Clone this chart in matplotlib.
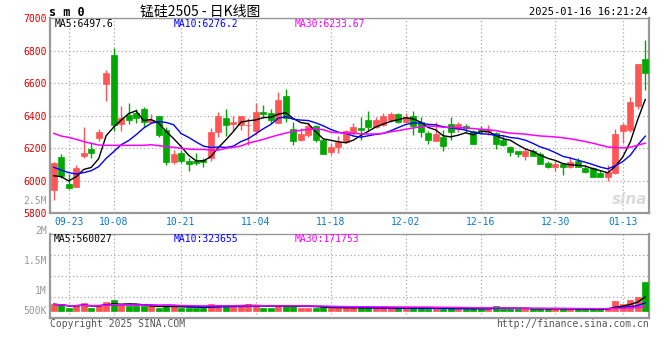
import numpy as np
import pandas as pd
import matplotlib
matplotlib.use('Agg')
import matplotlib.pyplot as plt

# daily candles 2024-09-19 .. 2025-01-16 (80 sessions)
open_ = [5943, 6148, 5980, 5964, 6152, 6197, 6265, 6597, 6773, 6349,
         6404, 6419, 6441, 6363, 6398, 6312, 6113, 6168, 6121, 6121,
         6128, 6142, 6302, 6384, 6347, 6341, 6341, 6308, 6423, 6419,
         6357, 6521, 6318, 6251, 6282, 6337, 6251, 6179, 6206, 6241,
         6292, 6324, 6374, 6333, 6343, 6374, 6410, 6363, 6398, 6362,
         6294, 6246, 6271, 6349, 6316, 6337, 6304, 6318, 6302, 6292,
         6253, 6205, 6183, 6153, 6183, 6165, 6111, 6087, 6101, 6087,
         6122, 6081, 6081, 6046, 6021, 6046, 6308, 6312, 6460, 6749]
high = [6115, 6164, 6039, 6097, 6332, 6236, 6320, 6681, 6818, 6460,
        6480, 6441, 6453, 6410, 6400, 6332, 6189, 6189, 6138, 6168,
        6138, 6323, 6425, 6439, 6398, 6398, 6384, 6476, 6466, 6439,
        6548, 6562, 6364, 6326, 6364, 6343, 6255, 6230, 6275, 6312,
        6357, 6394, 6429, 6390, 6415, 6425, 6415, 6419, 6431, 6394,
        6304, 6362, 6312, 6392, 6359, 6349, 6312, 6337, 6345, 6302,
        6281, 6217, 6183, 6200, 6193, 6179, 6124, 6128, 6111, 6148,
        6142, 6097, 6087, 6066, 6097, 6316, 6357, 6517, 6718, 6866]
low = [5882, 6015, 5949, 5960, 6138, 6142, 6244, 6490, 6306, 6306,
       6347, 6353, 6332, 6357, 6267, 6097, 6103, 6107, 6062, 6095,
       6087, 6124, 6271, 6275, 6312, 6312, 6220, 6282, 6384, 6353,
       6353, 6363, 6220, 6245, 6271, 6241, 6165, 6158, 6173, 6234,
       6282, 6251, 6308, 6322, 6337, 6363, 6353, 6353, 6280, 6271,
       6228, 6246, 6184, 6249, 6302, 6302, 6226, 6288, 6281, 6195,
       6214, 6153, 6148, 6128, 6152, 6101, 6077, 6062, 6036, 6077,
       6087, 6050, 6021, 6021, 6001, 6042, 6234, 6298, 6439, 6558]
close = [6111, 6031, 5955, 6080, 6171, 6173, 6300, 6662, 6343, 6388,
         6373, 6386, 6363, 6374, 6281, 6117, 6164, 6121, 6105, 6107,
         6113, 6302, 6398, 6341, 6364, 6398, 6345, 6423, 6413, 6374,
         6497, 6384, 6247, 6288, 6337, 6251, 6165, 6206, 6241, 6306,
         6329, 6312, 6333, 6374, 6398, 6410, 6363, 6394, 6338, 6298,
         6248, 6288, 6214, 6302, 6349, 6322, 6228, 6308, 6312, 6226,
         6220, 6179, 6167, 6184, 6154, 6101, 6083, 6103, 6087, 6118,
         6087, 6056, 6025, 6025, 6052, 6288, 6343, 6487, 6718, 6665]
volume = [265e3, 225e3, 130e3, 225e3, 305e3, 130e3, 225e3, 345e3, 425e3, 225e3,
          200e3, 185e3, 200e3, 185e3, 130e3, 210e3, 185e3, 130e3, 130e3, 130e3,
          120e3, 265e3, 225e3, 210e3, 185e3, 210e3, 265e3, 250e3, 130e3, 130e3,
          210e3, 230e3, 250e3, 130e3, 130e3, 130e3, 170e3, 120e3, 110e3, 110e3,
          110e3, 185e3, 110e3, 110e3, 110e3, 110e3, 110e3, 110e3, 115e3, 110e3,
          95e3, 100e3, 90e3, 100e3, 95e3, 90e3, 100e3, 90e3, 95e3, 180e3,
          90e3, 85e3, 90e3, 95e3, 85e3, 90e3, 80e3, 95e3, 90e3, 95e3,
          70e3, 80e3, 75e3, 85e3, 126e3, 398e3, 266e3, 426e3, 557e3, 1153e3]

# moving-average values before enough sessions exist on the chart
ma5_head = [6031, 6025, 5999, 6025]
ma10_head = [6083, 6066, 6050, 6042, 6050, 6062, 6087, 6138, 6179]
ma30_head = [6292, 6275, 6267, 6255, 6241, 6230, 6220, 6218, 6218, 6218,
             6218, 6218, 6218, 6222, 6216, 6210, 6206, 6200, 6195, 6193,
             6193, 6189, 6189, 6200, 6206, 6214, 6232, 6243, 6255]

tick_idx = [2, 8, 17, 27, 37, 47, 57, 67, 76]
tick_lbl = ['09-23', '10-08', '10-21', '11-04', '11-18', '12-02', '12-16', '12-30', '01-13']

o = np.array(open_, float)
h = np.array(high, float)
l = np.array(low, float)
c = np.array(close, float)
v = np.array(volume, float)
x = np.arange(len(c))

cs = pd.Series(c)
ma5 = cs.rolling(5).mean().to_numpy()
ma10 = cs.rolling(10).mean().to_numpy()
ma30 = cs.rolling(30).mean().to_numpy()
ma5[:len(ma5_head)] = ma5_head
ma10[:len(ma10_head)] = ma10_head
ma30[:len(ma30_head)] = ma30_head

vs = pd.Series(v)
vma5 = vs.rolling(5, min_periods=1).mean()
vma10 = vs.rolling(10, min_periods=1).mean()
vma30 = vs.rolling(30, min_periods=1).mean()

RED = '#ff5555'
GREEN = '#00a800'
GRID = '#aaaaaa'
EDGE = '#999999'
MONO = 'DejaVu Sans Mono'
cols = np.where(c >= o, RED, GREEN)

W, H = 660, 360
fig = plt.figure(figsize=(6.6, 3.6), dpi=100)


def ftext(px, py, s, **kw):
    kw.setdefault('family', MONO)
    kw.setdefault('va', 'center')
    fig.text(px / W, 1 - py / H, s, **kw)


ax = fig.add_axes([50 / W, 1 - 213.3 / H, 599 / W, 195.1 / H])
axv = fig.add_axes([50 / W, 1 - 318 / H, 599 / W, 84 / H], sharex=ax)

# candles
ax.vlines(x, l, h, colors=cols, linewidth=1, zorder=3)
ax.bar(x, np.maximum(np.abs(c - o), 5), bottom=np.minimum(o, c), width=0.8,
       color=cols, edgecolor=cols, linewidth=0.5, zorder=4)
ax.plot(x, ma5, color='black', lw=1, zorder=5)
ax.plot(x, ma10, color='#0000ff', lw=1, zorder=5)
ax.plot(x, ma30, color='#ff00ff', lw=1.1, zorder=5)

ax.set_xlim(-0.5, len(c) - 0.5)
ax.set_ylim(5800, 7000)
ax.set_yticks(np.arange(5800, 7001, 200))
ax.set_xticks(tick_idx)
ax.set_xticklabels(tick_lbl)
ax.tick_params(length=0, pad=2, labelsize=7)
ax.tick_params(axis='y', colors='#dd0000', pad=2)
ax.tick_params(axis='x', colors='#0a78d0', pad=3)
for t in ax.get_xticklabels() + ax.get_yticklabels():
    t.set_family(MONO)
ax.grid(True, color=GRID, linestyle=(0, (1, 2)), linewidth=0.9)
ax.set_axisbelow(True)
for side, sp in ax.spines.items():
    sp.set_color(EDGE)
    sp.set_linewidth(1.6 if side in ('left', 'bottom', 'right') else 1.0)

ax.text(0.998, 0.03, 'sina', transform=ax.transAxes, ha='right', va='bottom',
        fontsize=11, fontstyle='italic', fontweight='bold', color='#dadada', zorder=1)

# volume
vmin, vmax = -278e3, 3.06e6
axv.bar(x, v, width=0.8, color=cols, edgecolor=cols, linewidth=0.5, zorder=3)
axv.plot(x, vma5, color='black', lw=1, zorder=4)
axv.plot(x, vma10, color='#0000ff', lw=1, zorder=4)
axv.plot(x, vma30, color='#ff00ff', lw=1, zorder=4)
axv.set_ylim(vmin, vmax)
axv.set_yticks(np.linspace(vmin, vmax, 5)[1:4])
axv.set_yticklabels([])
axv.tick_params(length=0, labelbottom=False)
axv.grid(True, color=GRID, linestyle=(0, (1, 2)), linewidth=0.9)
axv.set_axisbelow(True)
for side, sp in axv.spines.items():
    sp.set_color(EDGE)
    sp.set_linewidth(1.6 if side in ('left', 'bottom', 'right') else 1.0)

# header
ftext(49, 12, 's m 0', fontsize=8.5, fontweight='bold', color='black')
ftext(200, 12, '锰硅2505 - 日K线图', ha='center', fontsize=10, color='black',
      family=['Noto Sans CJK SC', 'DejaVu Sans'])
ftext(648, 12, '2025-01-16 16:21:24', ha='right', fontsize=7.5, color='black')

# legends
ftext(55, 24, 'MA5:6497.6', fontsize=7, color='black')
ftext(174, 24, 'MA10:6276.2', fontsize=7, color='#0000ff')
ftext(295, 24, 'MA30:6233.67', fontsize=7, color='#ff00ff')
ftext(54, 238.5, 'MA5:560027', fontsize=7, color='black')
ftext(174, 238.5, 'MA10:323655', fontsize=7, color='#0000ff')
ftext(295, 238.5, 'MA30:171753', fontsize=7, color='#ff00ff')

# volume scale labels
for lbl, py in [('2.5M', 201), ('2M', 231), ('1.5M', 261), ('1M', 291), ('500K', 311)]:
    ftext(47, py, lbl, ha='right', fontsize=7, color='#999999')

ftext(50, 324, 'Copyright 2025 SINA.COM', fontsize=7, color='#555555')
ftext(649, 324, 'http://finance.sina.com.cn', ha='right', fontsize=7, color='#555555')

fig.savefig('out.png', dpi=100, facecolor='white')
